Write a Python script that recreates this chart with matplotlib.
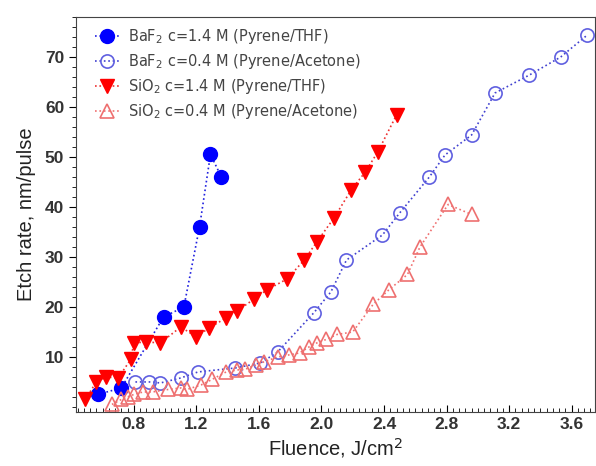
import matplotlib
matplotlib.use("Agg")
import matplotlib.pyplot as plt
from matplotlib.ticker import MultipleLocator

plt.rcParams['font.family'] = ['Liberation Sans', 'DejaVu Sans']

# BaF2 c=1.4 M (Pyrene/THF)
baf_hi_x = [0.57, 0.72, 0.99, 1.12, 1.22, 1.29, 1.36]
baf_hi_y = [2.5, 3.8, 18.0, 20.0, 36.0, 50.5, 46.0]

# BaF2 c=0.4 M (Pyrene/Acetone)
baf_lo_x = [0.81, 0.90, 0.97, 1.10, 1.21, 1.45, 1.61, 1.72, 1.95, 2.06,
            2.16, 2.39, 2.50, 2.69, 2.79, 2.96, 3.11, 3.33, 3.53, 3.70]
baf_lo_y = [5.0, 5.0, 4.8, 5.8, 7.0, 7.8, 8.8, 11.0, 18.8, 23.0,
            29.4, 34.4, 38.8, 46.0, 50.4, 54.4, 62.8, 66.4, 70.0, 74.4]

# SiO2 c=1.4 M (Pyrene/THF)
sio_hi_x = [0.49, 0.56, 0.62, 0.70, 0.78, 0.80, 0.88, 0.97, 1.10, 1.20,
            1.28, 1.39, 1.46, 1.57, 1.65, 1.78, 1.89, 1.97, 2.08, 2.19,
            2.28, 2.36, 2.48]
sio_hi_y = [1.5, 5.0, 6.0, 5.8, 9.5, 12.8, 13.0, 12.8, 16.0, 14.0,
            15.8, 17.8, 19.2, 21.6, 23.4, 25.6, 29.4, 33.0, 37.8, 43.4,
            47.0, 51.0, 58.4]

# SiO2 c=0.4 M (Pyrene/Acetone)
sio_lo_x = [0.66, 0.72, 0.76, 0.80, 0.86, 0.92, 1.02, 1.10, 1.14, 1.23,
            1.30, 1.39, 1.46, 1.51, 1.58, 1.63, 1.72, 1.79, 1.86, 1.92,
            1.97, 2.03, 2.10, 2.20, 2.33, 2.43, 2.55, 2.63, 2.81, 2.96]
sio_lo_y = [0.5, 1.5, 2.0, 2.5, 3.0, 3.0, 3.5, 3.8, 3.5, 4.4,
            5.5, 7.0, 7.4, 7.5, 8.4, 9.0, 10.0, 10.4, 10.8, 12.0,
            12.8, 13.5, 14.5, 15.0, 20.5, 23.4, 26.5, 32.0, 40.5, 38.5]

labels = ["BaF$_2$ c=1.4 M (Pyrene/THF)",
          "BaF$_2$ c=0.4 M (Pyrene/Acetone)",
          "SiO$_2$ c=1.4 M (Pyrene/THF)",
          "SiO$_2$ c=0.4 M (Pyrene/Acetone)"]

fig = plt.figure(figsize=(5.96, 4.66), dpi=100)
ax = fig.add_axes([0.1275, 0.116, 0.871, 0.8475])

ax.plot(baf_hi_x, baf_hi_y, ls=":", color="#2020e0", lw=1.2,
        marker="o", ms=10, mfc="#0000ff", mec="#0000ff", label=labels[0])
ax.plot(baf_lo_x, baf_lo_y, ls=":", color="#4040d0", lw=1.2,
        marker="o", ms=9.5, mfc="none", mec="#6060e0", mew=1.2, label=labels[1])
ax.plot(sio_hi_x, sio_hi_y, ls=":", color="#ee3030", lw=1.2,
        marker="v", ms=9.5, mfc="#ff0000", mec="#ff0000", label=labels[2])
ax.plot(sio_lo_x, sio_lo_y, ls=":", color="#f07070", lw=1.2,
        marker="^", ms=9.5, mfc="none", mec="#ee7070", mew=1.2, label=labels[3])

ax.set_xlim(0.43, 3.75)
ax.set_ylim(-1, 78)
ax.set_xticks([0.8, 1.2, 1.6, 2.0, 2.4, 2.8, 3.2, 3.6])
ax.set_yticks([10, 20, 30, 40, 50, 60, 70])
ax.xaxis.set_minor_locator(MultipleLocator(0.04))
ax.yaxis.set_minor_locator(MultipleLocator(2))
ax.tick_params(axis="x", which="both", direction="in", top=False)
ax.tick_params(axis="y", which="both", direction="out", right=False)
ax.tick_params(which="major", length=5, labelsize=12.5)
ax.tick_params(which="minor", length=3)
for lab in ax.get_xticklabels() + ax.get_yticklabels():
    lab.set_fontweight("bold")
    lab.set_color("#333333")

ax.set_xlabel("Fluence, J/cm$^2$", fontsize=14.5, labelpad=3, color="#222222")
ax.set_ylabel("Etch rate, nm/pulse", fontsize=14.5, labelpad=6, color="#222222")

for s in ax.spines.values():
    s.set_color("#444444")

leg = ax.legend(loc="upper left", bbox_to_anchor=(0.029, 0.985), frameon=False,
                prop={"family": "DejaVu Sans", "size": 10.5},
                handlelength=1.6, handletextpad=0.6, labelspacing=0.4,
                borderaxespad=0.0, borderpad=0.3)
for t in leg.get_texts():
    t.set_color("#444444")

fig.savefig("out.png", dpi=100)
